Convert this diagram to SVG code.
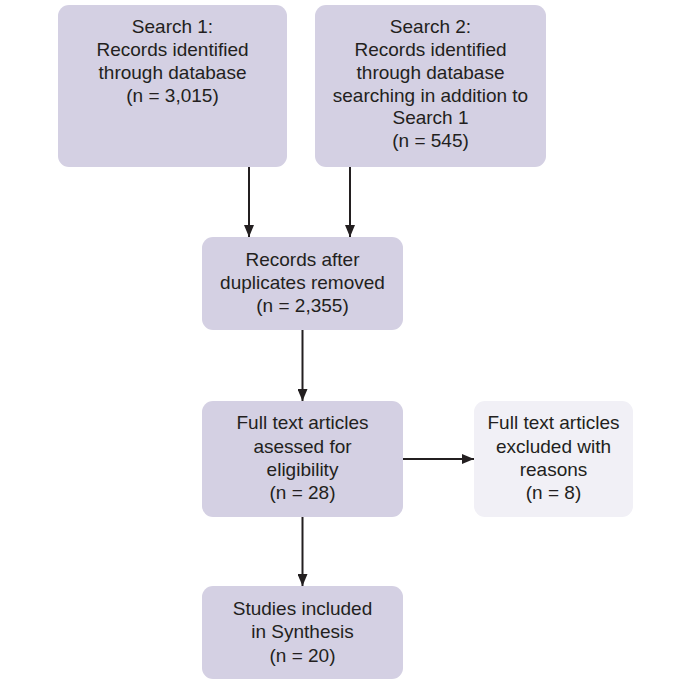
<svg xmlns="http://www.w3.org/2000/svg" width="692" height="694" viewBox="0 0 692 694">
<defs>
<style>
.box{fill:#d4d0e3;}
.light{fill:#f1f0f6;}
text{font-family:"Liberation Sans",Arial,sans-serif;font-size:19px;fill:#231f20;text-anchor:middle;}
.conn line{stroke:#231f20;stroke-width:2;marker-end:url(#ah);}
</style>
<marker id="ah" viewBox="0 0 12 10" refX="12" refY="5" markerWidth="12" markerHeight="10" markerUnits="userSpaceOnUse" orient="auto">
<path d="M0,0 L12,5 L0,10 z" fill="#231f20"/>
</marker>
</defs>
<rect width="692" height="694" fill="#ffffff"/>
<g id="search1">
<rect class="box" x="58" y="5" width="229" height="162" rx="11"/>
<text x="172.5" y="33">Search 1:</text>
<text x="172.5" y="56">Records identified</text>
<text x="172.5" y="79">through database</text>
<text x="172.5" y="102">(n = 3,015)</text>
</g>
<g id="search2">
<rect class="box" x="315" y="5" width="231" height="162" rx="11"/>
<text x="430.5" y="33">Search 2:</text>
<text x="430.5" y="56">Records identified</text>
<text x="430.5" y="79">through database</text>
<text x="430.5" y="102">searching in addition to</text>
<text x="430.5" y="124">Search 1</text>
<text x="430.5" y="147">(n = 545)</text>
</g>
<g id="dedup">
<rect class="box" x="202" y="237" width="201" height="93" rx="11"/>
<text x="302.5" y="266">Records after</text>
<text x="302.5" y="289">duplicates removed</text>
<text x="302.5" y="312">(n = 2,355)</text>
</g>
<g id="fulltext">
<rect class="box" x="202" y="401" width="201" height="116" rx="11"/>
<text x="302.5" y="429">Full text articles</text>
<text x="302.5" y="453">asessed for</text>
<text x="302.5" y="476">eligibility</text>
<text x="302.5" y="499">(n = 28)</text>
</g>
<g id="excluded">
<rect class="light" x="474" y="401" width="159" height="116" rx="11"/>
<text x="553.5" y="429">Full text articles</text>
<text x="553.5" y="453">excluded with</text>
<text x="553.5" y="476">reasons</text>
<text x="553.5" y="499">(n = 8)</text>
</g>
<g id="included">
<rect class="box" x="202" y="586" width="201" height="93" rx="11"/>
<text x="302.5" y="615">Studies included</text>
<text x="302.5" y="638">in Synthesis</text>
<text x="302.5" y="662">(n = 20)</text>
</g>
<g class="conn" id="connectors">
<line x1="249" y1="167" x2="249" y2="237"/>
<line x1="350" y1="167" x2="350" y2="237"/>
<line x1="302.5" y1="330" x2="302.5" y2="401"/>
<line x1="302.5" y1="517" x2="302.5" y2="586"/>
<line x1="403" y1="459" x2="474" y2="459"/>
</g>
</svg>
